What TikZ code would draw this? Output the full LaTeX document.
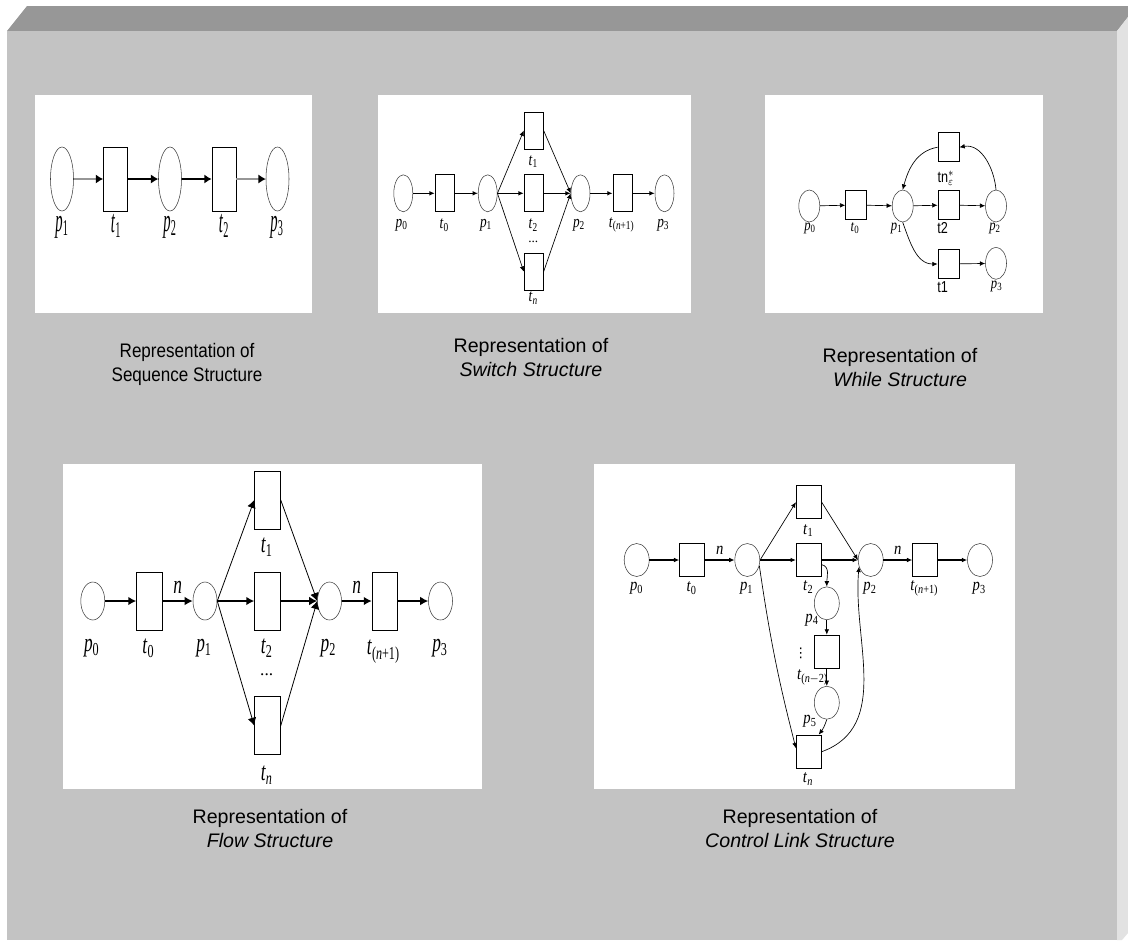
\documentclass[tikz,border=0pt]{standalone}
\usepackage{fontspec}
\setmainfont{Liberation Serif}
\setsansfont{Liberation Sans}
\newfontfamily\dvfont{DejaVu Sans}
\usetikzlibrary{arrows.meta,shapes.geometric}
\definecolor{FrontClr}{RGB}{195,195,195}
\definecolor{TopClr}{RGB}{151,151,151}
\definecolor{SideClr}{RGB}{226,226,226}
\definecolor{ShaftClr}{RGB}{150,150,150}
\definecolor{RimClr}{RGB}{60,60,60}
\newcommand\vstr{1}
\newcommand\plab[2]{\scalebox{1}[\vstr]{\textit{#1}\textsubscript{#2}}}
\newcommand\slab[1]{\scalebox{1}[\vstr]{\sffamily #1}}
\newcommand\capt[2]{\begin{tabular}{@{}c@{}}#1\\#2\end{tabular}}
\tikzset{
  place/.style={shape=ellipse,draw=RimClr,fill=white,line width=.4pt,inner sep=0pt},
  trans/.style={rectangle,draw=black,line width=.6pt,fill=white,inner sep=0pt},
  arc/.style={-{Latex[length=4pt,width=3.5pt]},line width=.5pt},
  bold arc/.style={arc,line width=1pt},
  lab/.style={inner sep=0pt},
  captxt/.style={font=\sffamily\fontsize{14.7}{18}\selectfont,inner sep=0pt},
}

\begin{document}
\begin{tikzpicture}[x=.75pt,y=-.75pt]
\useasboundingbox (0,0) rectangle (1128,940);

% box
\fill[white] (0,0) rectangle (1128,940);
\fill[TopClr] (7,31) -- (27,6) -- (1128,6) -- (1128,17) -- (1117,31) -- cycle;
\fill[SideClr] (1117,31) -- (1128,17) -- (1128,933) -- (1122,940) -- (1117,940) -- cycle;
\fill[FrontClr] (7,31) rectangle (1117,940);

% panels
\fill[white] (35,95) rectangle (312,313);
\fill[white] (378,95) rectangle (691,313);
\fill[white] (765,95) rectangle (1043,313);
\fill[white] (63,464) rectangle (482,789);
\fill[white] (594,464) rectangle (1015,789);

% sequence
\begin{scope}[lab/.append style={font=\fontsize{11}{13}\selectfont},
  place/.append style={minimum width=17.25pt,minimum height=48pt},
  trans/.append style={minimum width=18pt,minimum height=48pt},
  arc/.style={-{Latex[length=5.5pt,width=7pt,color=black]},line width=1.5pt}]
\renewcommand\vstr{2.2}
\node[place] (qp1) at (62,179) {};
\node[trans] (qt1) at (115.5,179) {};
\node[place] (qp2) at (170,179) {};
\node[trans] (qt2) at (224,179) {};
\node[place] (qp3) at (277.5,179) {};
\draw[arc,ShaftClr] (qp1) -- (qt1);
\draw[arc] (qt1) -- (qp2);
\draw[arc] (qp2) -- (qt2);
\draw[arc,ShaftClr] (qt2) -- (qp3);
\node[lab] (lqp1) at (62,227) {\plab{p}{1}};
\node[lab] (lqt1) at (116,226) {\plab{t}{1}};
\node[lab] (lqp2) at (170,227) {\plab{p}{2}};
\node[lab] (lqt2) at (224,226) {\plab{t}{2}};
\node[lab] (lqp3) at (277,227) {\plab{p}{3}};
\end{scope}

% switch
\begin{scope}[lab/.append style={font=\fontsize{10}{12}\selectfont},
  place/.append style={minimum width=14.25pt,minimum height=27.75pt},
  trans/.append style={minimum width=14.25pt,minimum height=27.75pt}]
\renewcommand\vstr{1.3}
\node[place] (sp0) at (403.3,193.3) {};
\node[trans] (st0) at (444.7,193.3) {};
\node[place] (sp1) at (487.7,193.3) {};
\node[trans] (st1) at (533.7,130.5) {};
\node[trans] (st2) at (533.7,193.3) {};
\node[trans] (stn) at (533.7,271.7) {};
\node[place] (sp2) at (580.5,193.3) {};
\node[trans] (stm) at (622.5,193.3) {};
\node[place] (sp3) at (664.5,193.3) {};
\draw[bold arc] (sp0) -- (st0);
\draw[bold arc] (st0) -- (sp1);
\draw[arc] (sp1.east) -- (st1.west);
\draw[bold arc] (sp1) -- (st2);
\draw[arc] (sp1.east) -- (stn.west);
\draw[arc] (st1.east) -- (sp2.west);
\draw[bold arc] (st2) -- (sp2);
\draw[arc] (stn.east) -- (sp2.west);
\draw[bold arc] (sp2) -- (stm);
\draw[bold arc] (stm) -- (sp3);
\node[lab] (lsp0) at (401.7,225) {\plab{p}{0}};
\node[lab] (lst0) at (444.3,225) {\plab{t}{0}};
\node[lab] (lsp1) at (486,225) {\plab{p}{1}};
\node[lab] (lst1) at (533.3,161.7) {\plab{t}{1}};
\node[lab] (lst2) at (533.3,225) {\plab{t}{2}};
\node[lab] (lsdots) at (533.3,241.7) {...};
\node[lab] (lstn) at (533.3,298.3) {\plab{t}{\textit{n}}};
\node[lab] (lsp2) at (579,225) {\plab{p}{2}};
\node[lab] (lstm) at (621.7,225) {\plab{t}{(\textit{n}+1)}};
\node[lab] (lsp3) at (663.3,225) {\plab{p}{3}};
\end{scope}

% while
\begin{scope}[lab/.append style={font=\fontsize{9.5}{11}\selectfont},
  place/.append style={minimum width=15.75pt,minimum height=24pt},
  trans/.append style={minimum width=15.75pt,minimum height=21.75pt}]
\renewcommand\vstr{1.25}
\node[place] (wp0) at (809.3,206) {};
\node[trans] (wt0) at (856.2,205) {};
\node[place] (wp1) at (902.7,206) {};
\node[trans] (wtn) at (948.5,147.2) {};
\node[trans] (wt2) at (948.5,205) {};
\node[place] (wp2) at (996,206) {};
\node[trans] (wt1) at (948.5,264) {};
\node[place] (wp3) at (996,263.3) {};
\draw[arc] (wp0) -- (wt0);
\draw[arc] (wt0) -- (wp1);
\draw[arc] (wp1) -- (wt2);
\draw[arc] (wt2) -- (wp2);
\draw[arc] (wt1) -- (wp3);
\draw[arc] (wp2.north) to[out=95,in=10] (wtn.east);
\draw[arc] (wtn.west) to[out=190,in=75] (wp1.north);
\draw[arc] (wp1.south) to[out=-70,in=180] (wt1.west);
\node[lab] (lwp0) at (810,228.3) {\plab{p}{0}};
\node[lab] (lwt0) at (855,228.3) {\plab{t}{0}};
\node[lab] (lwp1) at (896.7,228.3) {\plab{p}{1}};
\node[lab] (lwtn) at (946,178.3) {\slab{tn$^{\ast}_{\varepsilon}$}};
\node[lab] (lwt2) at (942.7,228.3) {\slab{t2}};
\node[lab] (lwp2) at (995,228.3) {\plab{p}{2}};
\node[lab] (lwt1) at (942.7,286.7) {\slab{t1}};
\node[lab] (lwp3) at (996.7,286.7) {\plab{p}{3}};
\end{scope}

% flow
\begin{scope}[lab/.append style={font=\fontsize{13}{15}\selectfont},
  place/.append style={minimum width=18pt,minimum height=28.5pt},
  trans/.append style={minimum width=19.25pt,minimum height=43.5pt},
  arc/.style={-{Latex[length=6pt,width=6.5pt]},line width=.6pt},
  bold arc/.style={arc,line width=1.4pt}]
\renewcommand\vstr{1.5}
\node[place] (fp0) at (92.8,601) {};
\node[trans] (ft0) at (149.5,601) {};
\node[place] (fp1) at (205,601) {};
\node[trans] (ft1) at (267.5,500) {};
\node[trans] (ft2) at (267.5,601) {};
\node[trans] (ftn) at (267.5,725.7) {};
\node[place] (fp2) at (329.5,601) {};
\node[trans] (ftm) at (385,601) {};
\node[place] (fp3) at (440.5,601) {};
\draw[bold arc] (fp0) -- (ft0);
\draw[bold arc] (ft0) -- node[lab,above=5pt] (fn0) {\scalebox{1}[\vstr]{\textit{n}}} (fp1);
\draw[arc] (fp1.east) -- (ft1.west);
\draw[bold arc] (fp1) -- (ft2);
\draw[arc] (fp1.east) -- (ftn.west);
\draw[arc] (ft1.east) -- (fp2.west);
\draw[bold arc] (ft2) -- (fp2);
\draw[arc] (ftn.east) -- (fp2.west);
\draw[bold arc] (fp2) -- node[lab,above=5pt] (fn2) {\scalebox{1}[\vstr]{\textit{n}}} (ftm);
\draw[bold arc] (ftm) -- (fp3);
\node[lab] (lfp0) at (91.7,648.3) {\plab{p}{0}};
\node[lab] (lft0) at (148.3,648.3) {\plab{t}{0}};
\node[lab] (lfp1) at (204,648.3) {\plab{p}{1}};
\node[lab] (lft1) at (266.7,547.3) {\plab{t}{1}};
\node[lab] (lft2) at (266.7,648.3) {\plab{t}{2}};
\node[lab] (lfdots) at (266.7,675) {...};
\node[lab] (lftn) at (266.7,775) {\plab{t}{\textit{n}}};
\node[lab] (lfp2) at (328.3,648.3) {\plab{p}{2}};
\node[lab] (lftm) at (383.3,651.7) {\plab{t}{(\textit{n}+1)}};
\node[lab] (lfp3) at (440,648.3) {\plab{p}{3}};
\end{scope}

% control link
\begin{scope}[lab/.append style={font=\fontsize{11}{13}\selectfont},
  place/.append style={minimum width=18.75pt,minimum height=24.75pt},
  trans/.append style={minimum width=18.75pt,minimum height=25pt}]
\renewcommand\vstr{1.2}
\node[place] (cp0) at (636.7,560) {};
\node[trans] (ct0) at (692.2,560) {};
\node[place] (cp1) at (747.3,560) {};
\node[trans] (ct1) at (808.8,502.2) {};
\node[trans] (ct2) at (808.8,560) {};
\node[place] (cp2) at (870.7,560) {};
\node[trans] (ctm) at (925.2,560) {};
\node[place] (cp3) at (980,560) {};
\node[place] (cp4) at (826.8,603.3) {};
\node[trans] (ctk) at (826.8,651.7) {};
\node[place] (cp5) at (826.8,702.7) {};
\node[trans] (ctn) at (808.8,751.7) {};
\draw[bold arc] (cp0) -- (ct0);
\draw[bold arc] (ct0) -- node[lab,above=4pt] (cn0) {\scalebox{1}[\vstr]{\textit{n}}} (cp1);
\draw[arc] (cp1.east) -- (ct1.west);
\draw[bold arc] (cp1) -- (ct2);
\draw[arc] (ct1.east) -- (cp2.west);
\draw[bold arc] (ct2) -- (cp2);
\draw[bold arc] (cp2) -- node[lab,above=4pt] (cn2) {\scalebox{1}[\vstr]{\textit{n}}} (ctm);
\draw[bold arc] (ctm) -- (cp3);
\draw[arc] (ct2.-20) to[out=-10,in=90] (cp4.north);
\draw[arc] (cp4) -- (ctk);
\draw[arc] (ctk) -- (cp5);
\draw[arc] (cp5.south) to[bend left=10] (ctn.60);
\draw[arc] (cp1.-25) to[bend right=3] (ctn.165);
\draw[arc] (ctn.east) to[out=20,in=-95] (cp2.-150);
\node[lab] (lcp0) at (636.7,588.3) {\plab{p}{0}};
\node[lab] (lct0) at (691.7,588.3) {\plab{t}{0}};
\node[lab] (lcp1) at (746.7,588.3) {\plab{p}{1}};
\node[lab] (lct1) at (808.3,530.7) {\plab{t}{1}};
\node[lab] (lct2) at (808.3,587.3) {\plab{t}{2}};
\node[lab] (lcp2) at (870,588.3) {\plab{p}{2}};
\node[lab] (lctm) at (924.3,588.3) {\plab{t}{(\textit{n}+1)}};
\node[lab] (lcp3) at (979.3,588.3) {\plab{p}{3}};
\node[lab] (lcp4) at (812,620) {\plab{p}{4}};
\node[lab] (lcdots) at (800.7,653) {\dvfont\fontsize{10}{12}\selectfont ⋮};
\node[lab] (lctk) at (812.5,677.5) {\plab{t}{(\textit{n}$-$2)}};
\node[lab] (lcp5) at (810,721.7) {\plab{p}{5}};
\node[lab] (lctn) at (808,779) {\plab{t}{\textit{n}}};
\end{scope}

% captions
\node[captxt] (cap1) at (187,365) {\scalebox{.87}[1]{\capt{Representation of}{Sequence Structure}}};
\node[captxt] (cap2) at (531,360) {\capt{Representation of}{\textit{Switch Structure}}};
\node[captxt] (cap3) at (900,369.5) {\capt{Representation of}{\textit{While Structure}}};
\node[captxt] (cap4) at (270,831) {\capt{Representation of}{\textit{Flow Structure}}};
\node[captxt] (cap5) at (800,831) {\capt{Representation of}{\textit{Control Link Structure}}};

\end{tikzpicture}
\end{document}
